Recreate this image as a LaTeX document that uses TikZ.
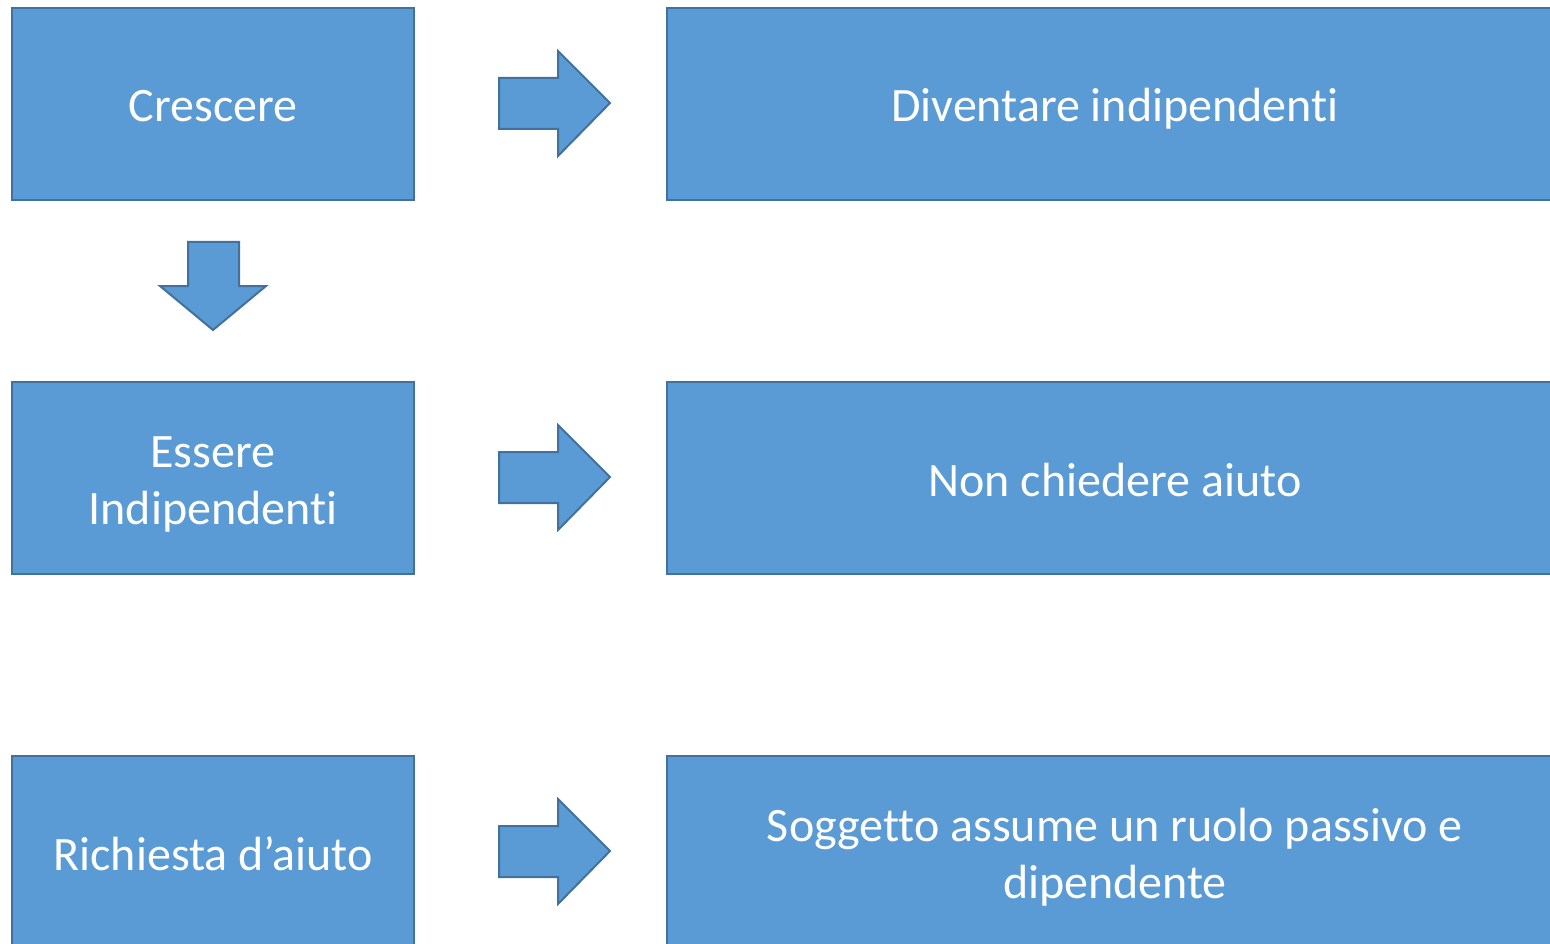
\documentclass[tikz,border=0pt]{standalone}
\usepackage{fontspec}
\setmainfont[Ligatures=NoCommon]{Carlito}
\definecolor{boxfill}{HTML}{5B9BD5}
\definecolor{boxline}{HTML}{41719C}
\begin{document}
\begin{tikzpicture}[x=1pt,y=-1pt,
  box/.style={draw=boxline,fill=boxfill,line width=2pt},
  lbl/.style={text=white,font=\fontsize{48}{57}\selectfont,align=center,inner sep=0pt},
  arr/.style={draw=boxline,fill=boxfill,line width=2pt,line join=miter}]
\useasboundingbox (0,0) rectangle (1550,944);
\clip (0,0) rectangle (1550,944);
% left boxes
\draw[box] (12,8) rectangle (414,200);
\node[lbl] (l1) at (213,106) {Crescere};
\draw[box] (12,382) rectangle (414,574);
\node[lbl] (l2) at (213,484) {Essere\\Indipendenti};
\draw[box] (12,756) rectangle (414,948);
\node[lbl] (l3) at (213,854) {Richiesta d’aiuto};
% right boxes
\draw[box] (667,8) rectangle (1563,200);
\node[lbl] (r1) at (1115,109) {Diventare indipendenti};
\draw[box] (667,382) rectangle (1563,574);
\node[lbl] (r2) at (1115,480) {Non chiedere aiuto};
\draw[box] (667,756) rectangle (1563,948);
\node[lbl] (r3) at (1115,857) {Soggetto assume un ruolo passivo e\\dipendente};
% right arrows
\foreach \dy in {0,374,748}{
  \draw[arr] (499,78+\dy) -- (558,78+\dy) -- (558,51+\dy) -- (610,103+\dy) -- (558,156+\dy) -- (558,129+\dy) -- (499,129+\dy) -- cycle;
}
% down arrow
\draw[arr] (188,242) -- (239,242) -- (239,286) -- (266,286) -- (213,330) -- (160,286) -- (188,286) -- cycle;
\end{tikzpicture}
\end{document}
